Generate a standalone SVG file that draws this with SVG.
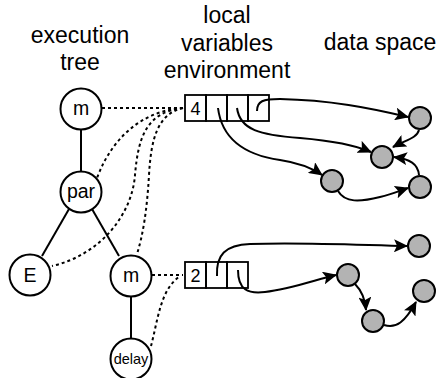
<svg xmlns="http://www.w3.org/2000/svg" width="438" height="378" viewBox="0 0 438 378">
<style>
text{font-family:"Liberation Sans",Arial,sans-serif;fill:#000}
.hd{font-size:23px;text-anchor:middle}
.tn{fill:#fff;stroke:#000;stroke-width:2}
.tl{font-size:19.5px;text-anchor:middle}
.dn{fill:#b3b3b3;stroke:#000;stroke-width:2}
.cell{fill:none;stroke:#000;stroke-width:1.8}
.edge{stroke:#000;stroke-width:2;fill:none}
.dot{stroke:#000;stroke-width:2;fill:none;stroke-dasharray:3 3}
.ptr{stroke:#000;stroke-width:2;fill:none;marker-end:url(#ah)}
</style>
<defs>
<marker id="ah" markerUnits="userSpaceOnUse" markerWidth="15" markerHeight="13" refX="13" refY="6.5" orient="auto">
<path d="M0,0 L14,6.5 L0,13 L3,6.5 Z" fill="#000"/>
</marker>
</defs>
<g id="headers">
<text class="hd" x="80" y="43">execution</text>
<text class="hd" x="80" y="70">tree</text>
<text class="hd" x="227" y="23">local</text>
<text class="hd" x="227" y="51">variables</text>
<text class="hd" x="227" y="78">environment</text>
<text class="hd" x="380" y="50">data space</text>
</g>
<g id="connectors">
<line class="edge" x1="81" y1="129" x2="81" y2="172"/>
<line class="edge" x1="69" y1="209" x2="42" y2="256"/>
<line class="edge" x1="92" y1="209" x2="119" y2="256"/>
<line class="edge" x1="131" y1="296" x2="131" y2="338"/>
<path class="dot" d="M102,108 L183,108"/>
<path class="dot" d="M183,108 C150,110 115,130 97,178"/>
<path class="dot" d="M183,108 C145,112 138,140 135,175 C132,215 100,255 52,266"/>
<path class="dot" d="M183,108 C157,114 151,140 149,175 C147,210 143,235 137,254"/>
<path class="dot" d="M152,275 L183,275"/>
<path class="dot" d="M151,346 C158,320 160,290 180,276"/>
<path class="ptr" d="M257,111 C257,101 263,99 280,99 C330,100 370,108 408,117"/>
<path class="ptr" d="M237,108 C240,130 260,135 300,138 C335,141 355,145 371,152"/>
<path class="ptr" d="M218,108 C222,140 245,155 280,160 C300,163 312,168 322,175"/>
<path class="ptr" d="M419,130 C417,138 406,140 393,147"/>
<path class="ptr" d="M419,175 C418,164 410,159 394,157"/>
<path class="ptr" d="M338,191 C345,203 360,202 380,197 C392,194 399,191 408,188"/>
<path class="ptr" d="M217,276 C216,255 225,245 250,244 C300,242 360,245 407,246"/>
<path class="ptr" d="M238,270 C238,290 248,294 265,292 C290,289 315,280 336,275"/>
<path class="ptr" d="M355,284 C361,290 365,298 366,310"/>
<path class="ptr" d="M384,325 C396,329 405,322 416,302"/>
</g>
<g id="node-m1"><circle class="tn" cx="81" cy="109" r="20.5"/><text class="tl" x="81" y="115">m</text></g>
<g id="node-par"><circle class="tn" cx="81" cy="192" r="20.5"/><text class="tl" x="81" y="198">par</text></g>
<g id="node-E"><circle class="tn" cx="30" cy="275" r="20.5"/><text class="tl" x="30" y="282">E</text></g>
<g id="node-m2"><circle class="tn" cx="131" cy="276" r="20.5"/><text class="tl" x="131" y="282">m</text></g>
<g id="node-delay"><circle class="tn" cx="131" cy="359" r="20.5"/><text class="tl" x="131" y="364" style="font-size:14.5px">delay</text></g>
<g id="env1">
<rect class="cell" x="185" y="95" width="21" height="26"/>
<rect class="cell" x="206" y="95" width="21" height="26"/>
<rect class="cell" x="227" y="95" width="21" height="26"/>
<rect class="cell" x="248" y="95" width="21" height="26"/>
<text x="195.5" y="115" style="font-size:18px;text-anchor:middle">4</text>
</g>
<g id="env2">
<rect class="cell" x="185" y="262" width="21" height="26"/>
<rect class="cell" x="206" y="262" width="21" height="26"/>
<rect class="cell" x="227" y="262" width="21" height="26"/>
<text x="195.5" y="282" style="font-size:18px;text-anchor:middle">2</text>
</g>
<g id="data-a"><circle class="dn" cx="420" cy="118" r="11"/></g>
<g id="data-b"><circle class="dn" cx="382" cy="157" r="11"/></g>
<g id="data-c"><circle class="dn" cx="332" cy="181" r="11"/></g>
<g id="data-d"><circle class="dn" cx="420" cy="187" r="11"/></g>
<g id="data-e"><circle class="dn" cx="419" cy="246" r="11"/></g>
<g id="data-f"><circle class="dn" cx="348" cy="275" r="11"/></g>
<g id="data-g"><circle class="dn" cx="373" cy="321" r="11"/></g>
<g id="data-h"><circle class="dn" cx="424" cy="291" r="11"/></g>
</svg>
